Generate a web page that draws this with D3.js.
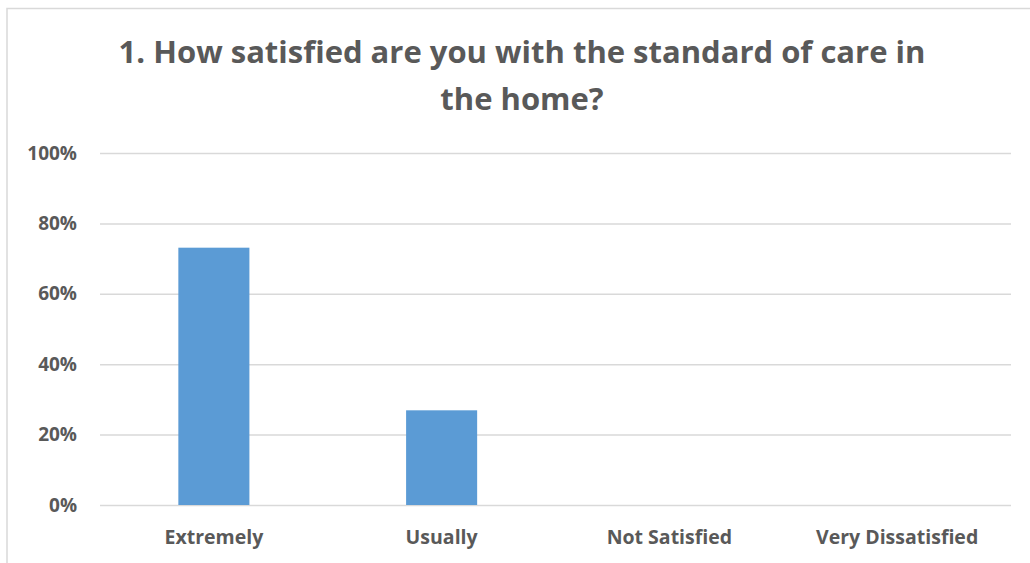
<!DOCTYPE html>
<html><head><meta charset="utf-8">
<script src="https://cdn.jsdelivr.net/npm/d3@7"></script>
<style>html,body{margin:0;padding:0;background:#fff;overflow:hidden}</style>
</head><body><svg id="c" width="1030" height="563"></svg>
<script>
const categories = ["Extremely", "Usually", "Not Satisfied", "Very Dissatisfied"];
const values = [73.1, 26.9, 0, 0];
const yTicks = [0, 20, 40, 60, 80, 100];
const titleLines = ["1. How satisfied are you with the standard of care in", "the home?"];

const svg = d3.select("#c");
const font = "'Open Sans', sans-serif";
const grey = "#595959";

// frame
svg.append("rect").attr("x", 7).attr("y", 8.5).attr("width", 1040).attr("height", 600)
  .attr("fill", "none").attr("stroke", "#D9D9D9").attr("stroke-width", 1.5);

const m = {left: 100, right: 1011, top: 153, bottom: 505};
const x = d3.scaleBand().domain(categories).range([m.left, m.right]).paddingInner(0.688).paddingOuter(0.344);
const y = d3.scaleLinear().domain([0, 100]).range([m.bottom, m.top]);

const yAxis = d3.axisLeft(y).tickValues(yTicks).tickFormat(d => d + "%")
  .tickSize(-(m.right - m.left)).tickPadding(23);
const gy = svg.append("g").attr("transform", `translate(${m.left},0)`).call(yAxis);
gy.select(".domain").remove();
gy.selectAll("line").attr("stroke", "#D9D9D9").attr("stroke-width", 1.5);
gy.selectAll("text").attr("fill", grey).attr("font-family", font).attr("font-weight", "bold").attr("font-size", 19);

svg.append("g").selectAll("rect").data(values).join("rect")
  .attr("x", (d, i) => x(categories[i]))
  .attr("y", d => y(d))
  .attr("width", x.bandwidth())
  .attr("height", d => y(0) - y(d))
  .attr("fill", "#5B9BD5");

const xAxis = d3.axisBottom(x).tickSize(0).tickPadding(25);
const gx = svg.append("g").attr("transform", `translate(0,${m.bottom})`).call(xAxis);
gx.select(".domain").remove();
gx.selectAll("text").attr("fill", grey).attr("font-family", font).attr("font-weight", "bold").attr("font-size", 19.5);

svg.append("g").selectAll("text").data(titleLines).join("text")
  .attr("x", 522).attr("y", (d, i) => 63 + i * 47)
  .attr("text-anchor", "middle")
  .attr("fill", grey).attr("font-family", font).attr("font-weight", "bold").attr("font-size", 31)
  .text(d => d);
</script></body></html>
